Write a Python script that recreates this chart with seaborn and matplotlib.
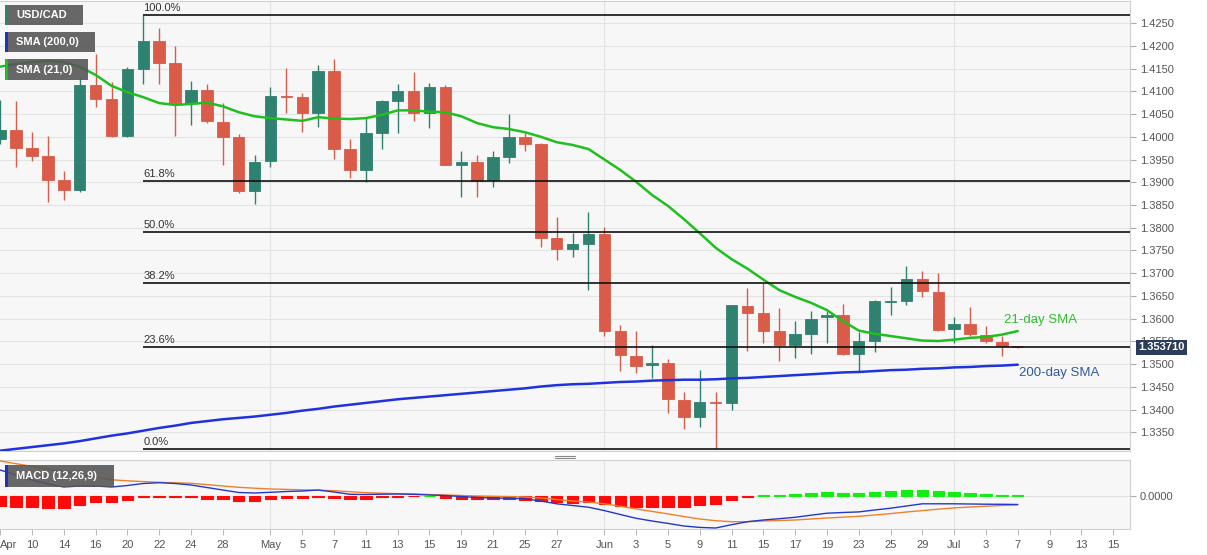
import numpy as np
import pandas as pd
import matplotlib
matplotlib.use("Agg")
import matplotlib.pyplot as plt
import seaborn as sns
from matplotlib.patches import Rectangle
from matplotlib.lines import Line2D

# ---------------- data ----------------
dates = pd.bdate_range("2020-04-08", "2020-07-07")

opens = [1.3995, 1.4015, 1.3976, 1.3958, 1.3904, 1.3884, 1.4114, 1.4082, 1.4002, 1.4150,
         1.4210, 1.4162, 1.4075, 1.4103, 1.4033, 1.3999, 1.3881, 1.3947, 1.4089, 1.4088,
         1.4052, 1.4145, 1.3973, 1.3927, 1.4008, 1.4079, 1.4101, 1.4052, 1.4110, 1.3938,
         1.3944, 1.3904, 1.3956, 1.4000, 1.3984, 1.3778, 1.3753, 1.3764, 1.3786, 1.3572,
         1.3519, 1.3498, 1.3502, 1.3422, 1.3383, 1.3417, 1.3415, 1.3629, 1.3613, 1.3573,
         1.3542, 1.3566, 1.3603, 1.3608, 1.3522, 1.3551, 1.3637, 1.3639, 1.3687, 1.3658,
         1.3577, 1.3588, 1.3564, 1.3548, 1.3540]
highs = [1.4081, 1.4079, 1.4010, 1.4002, 1.3925, 1.4132, 1.4183, 1.4120, 1.4154, 1.4268,
         1.4238, 1.4199, 1.4123, 1.4117, 1.4074, 1.4005, 1.3959, 1.4110, 1.4152, 1.4096,
         1.4157, 1.4172, 1.3994, 1.4041, 1.4081, 1.4115, 1.4142, 1.4119, 1.4114, 1.3969,
         1.3961, 1.3969, 1.4049, 1.4009, 1.3986, 1.3823, 1.3789, 1.3834, 1.3802, 1.3586,
         1.3572, 1.3542, 1.3512, 1.3438, 1.3488, 1.3439, 1.3631, 1.3667, 1.3678, 1.3623,
         1.3596, 1.3616, 1.3616, 1.3632, 1.3570, 1.3641, 1.3670, 1.3717, 1.3706, 1.3700,
         1.3603, 1.3625, 1.3583, 1.3561, 1.3541]
lows = [1.3985, 1.3934, 1.3947, 1.3856, 1.3862, 1.3878, 1.4065, 1.4000, 1.4000, 1.4116,
        1.4116, 1.4002, 1.4026, 1.4030, 1.3938, 1.3876, 1.3852, 1.3934, 1.4052, 1.4010,
        1.4022, 1.3952, 1.3909, 1.3901, 1.3973, 1.4008, 1.4035, 1.4019, 1.3937, 1.3867,
        1.3868, 1.3890, 1.3942, 1.3969, 1.3757, 1.3729, 1.3735, 1.3664, 1.3561, 1.3485,
        1.3480, 1.3469, 1.3392, 1.3357, 1.3361, 1.3313, 1.3400, 1.3529, 1.3546, 1.3507,
        1.3513, 1.3523, 1.3547, 1.3520, 1.3485, 1.3528, 1.3608, 1.3630, 1.3647, 1.3572,
        1.3546, 1.3561, 1.3546, 1.3519, 1.3536]
closes = [1.4015, 1.3976, 1.3958, 1.3904, 1.3884, 1.4114, 1.4082, 1.4002, 1.4150, 1.4210,
          1.4162, 1.4075, 1.4103, 1.4035, 1.3999, 1.3881, 1.3944, 1.4089, 1.4088, 1.4052,
          1.4145, 1.3974, 1.3927, 1.4008, 1.4079, 1.4101, 1.4052, 1.4110, 1.3938, 1.3944,
          1.3903, 1.3956, 1.4000, 1.3984, 1.3778, 1.3753, 1.3764, 1.3786, 1.3573, 1.3520,
          1.3497, 1.3502, 1.3423, 1.3383, 1.3416, 1.3415, 1.3630, 1.3613, 1.3574, 1.3542,
          1.3566, 1.3600, 1.3608, 1.3523, 1.3551, 1.3638, 1.3638, 1.3687, 1.3660, 1.3575,
          1.3588, 1.3566, 1.3551, 1.3540, 1.35371]

sma21 = [1.4154, 1.4160, 1.4164, 1.4167, 1.4164, 1.4154, 1.4136, 1.4112, 1.4098, 1.4087,
         1.4074, 1.4070, 1.4072, 1.4075, 1.4067, 1.4054, 1.4045, 1.4041, 1.4038, 1.4035,
         1.4043, 1.4040, 1.4039, 1.4041, 1.4048, 1.4058, 1.4058, 1.4055, 1.4054, 1.4045,
         1.4030, 1.4021, 1.4017, 1.4010, 1.4000, 1.3988, 1.3982, 1.3973, 1.3950, 1.3927,
         1.3901, 1.3872, 1.3848, 1.3819, 1.3788, 1.3756, 1.3731, 1.3710, 1.3686, 1.3663,
         1.3648, 1.3635, 1.3619, 1.3595, 1.3574, 1.3567, 1.3562, 1.3557, 1.3552, 1.3551,
         1.3554, 1.3558, 1.3560, 1.3565, 1.3573]
sma200 = [1.3310, 1.3314, 1.3318, 1.3322, 1.3326, 1.3331, 1.3337, 1.3343, 1.3348, 1.3354,
          1.3360, 1.3365, 1.3371, 1.3375, 1.3379, 1.3382, 1.3385, 1.3389, 1.3393, 1.3398,
          1.3402, 1.3407, 1.3411, 1.3415, 1.3419, 1.3423, 1.3426, 1.3429, 1.3432, 1.3435,
          1.3438, 1.3441, 1.3444, 1.3447, 1.3451, 1.3454, 1.3456, 1.3457, 1.3459, 1.3461,
          1.3462, 1.3464, 1.3465, 1.3466, 1.3466, 1.3467, 1.3469, 1.3470, 1.3472, 1.3474,
          1.3476, 1.3478, 1.3480, 1.3482, 1.3483, 1.3485, 1.3487, 1.3488, 1.3490, 1.3491,
          1.3493, 1.3494, 1.3496, 1.3497, 1.3499]

macd_line = [0.0052, 0.0042, 0.0032, 0.0024, 0.0018, 0.0020, 0.0020, 0.0018, 0.0021, 0.0025,
             0.00266, 0.0025, 0.0022, 0.0017, 0.0012, 0.0007, 0.0006, 0.00074, 0.0009, 0.0010,
             0.0012, 0.0008, 0.00034, 0.0003, 0.00036, 0.0004, 0.00034, 0.0002, 0.0001, -0.0001,
             -0.0003, -0.0004, -0.00046, -0.00056, -0.0010, -0.00156, -0.0019, -0.00224, -0.00292, -0.0037,
             -0.00446, -0.0050, -0.00548, -0.0060, -0.00628, -0.0064, -0.00574, -0.00514, -0.0048, -0.00454,
             -0.00426, -0.00384, -0.00344, -0.0033, -0.00318, -0.0028, -0.00244, -0.0020, -0.00156, -0.00156,
             -0.00156, -0.0016, -0.00164, -0.00166, -0.0017]
signal_line = [0.0070, 0.00646, 0.00592, 0.0054, 0.00486, 0.00432, 0.0038, 0.00324, 0.00304, 0.00288,
               0.00274, 0.00264, 0.00254, 0.00228, 0.0020, 0.00174, 0.00156, 0.0014, 0.00132, 0.00124,
               0.00114, 0.00106, 0.00086, 0.00066, 0.00056, 0.00046, 0.0004, 0.0003, 0.0002, 0.0001,
               0.0, -0.00006, -0.00012, -0.0002, -0.0004, -0.0007, -0.0010, -0.0012, -0.00156, -0.00206,
               -0.00258, -0.00308, -0.00358, -0.0041, -0.0046, -0.00494, -0.00514, -0.00514, -0.0050, -0.0049,
               -0.0048, -0.0046, -0.0044, -0.00424, -0.00406, -0.0038, -0.00352, -0.0032, -0.00292, -0.00264,
               -0.00238, -0.0022, -0.00204, -0.0019, -0.00176]
macd_hist = [-0.00206, -0.00226, -0.00226, -0.0024, -0.0024, -0.00174, -0.00126, -0.0012, -0.00074, -0.00026,
             -0.0002, -0.0002, -0.00026, -0.00054, -0.00066, -0.0010, -0.00106, -0.00066, -0.00046, -0.00034,
             -0.00014, -0.0004, -0.00054, -0.00054, -0.00026, -0.0001, -0.00006, 0.00006, -0.00046, -0.00054,
             -0.00066, -0.00066, -0.00066, -0.0007, -0.0010, -0.0012, -0.00134, -0.0012, -0.00168, -0.0020,
             -0.0022, -0.00216, -0.00216, -0.00216, -0.00188, -0.00168, -0.0008, -0.0001, 0.0002, 0.0003,
             0.00048, 0.00068, 0.00088, 0.00068, 0.00068, 0.00088, 0.0010, 0.0012, 0.0012, 0.0010,
             0.0008, 0.00054, 0.0004, 0.00026, 0.00014]

tick_dates = ["2020-04-08", "2020-04-10", "2020-04-14", "2020-04-16", "2020-04-20", "2020-04-22",
              "2020-04-24", "2020-04-28", "2020-05-01", "2020-05-05", "2020-05-07", "2020-05-11",
              "2020-05-13", "2020-05-15", "2020-05-19", "2020-05-21", "2020-05-25", "2020-05-27",
              "2020-06-01", "2020-06-03", "2020-06-05", "2020-06-09", "2020-06-11", "2020-06-15",
              "2020-06-17", "2020-06-19", "2020-06-23", "2020-06-25", "2020-06-29", "2020-07-01",
              "2020-07-03", "2020-07-07", "2020-07-09", "2020-07-13", "2020-07-15"]
tick_labels = ["Apr", "10", "14", "16", "20", "22", "24", "28", "May", "5", "7", "11", "13", "15",
               "19", "21", "25", "27", "Jun", "3", "5", "9", "11", "15", "17", "19", "23", "25",
               "29", "Jul", "3", "7", "9", "13", "15"]
month_starts = ["2020-05-01", "2020-06-01", "2020-07-01"]
fib_ratios = [1.0, 0.618, 0.5, 0.382, 0.236, 0.0]
fib_texts = ["100.0%", "61.8%", "50.0%", "38.2%", "23.6%", "0.0%"]
price_ticks = [1.3350, 1.3400, 1.3450, 1.3500, 1.3550, 1.3600, 1.3650, 1.3700, 1.3750, 1.3800,
               1.3850, 1.3900, 1.3950, 1.4000, 1.4050, 1.4100, 1.4150, 1.4200, 1.4250]

# ---------------- positions ----------------
all_days = pd.bdate_range("2020-04-08", "2020-07-15")
OFFSET = 2
pos_of = {d.strftime("%Y-%m-%d"): i - OFFSET for i, d in enumerate(all_days)}
xs = np.arange(len(dates)) - OFFSET
df = pd.DataFrame({"x": xs, "open": opens, "high": highs, "low": lows, "close": closes,
                   "sma21": sma21, "sma200": sma200, "macd": macd_line,
                   "signal": signal_line, "hist": macd_hist})

# ---------------- style ----------------
sns.set_theme(style="white")
plt.rcParams["font.family"] = ["Liberation Sans", "DejaVu Sans"]

W, H = 1207, 555
fig = plt.figure(figsize=(W / 100, H / 100), dpi=100)
fig.patch.set_facecolor("white")

def fx(px):
    return px / W

def fy(py):
    return 1 - py / H

ax = fig.add_axes([0, fy(451), fx(1130), fy(1) - fy(451)])
axm = fig.add_axes([0, fy(529), fx(1130), fy(460) - fy(529)])

XMIN, XMAX = -2.013, 69.06
GREEN_C = "#2f8170"
RED_C = "#d95b48"

for a in (ax, axm):
    a.set_facecolor("#f7f7f7")
    a.set_xlim(XMIN, XMAX)
    for s in ("left",):
        a.spines[s].set_visible(False)
    for s in ("right", "top", "bottom"):
        a.spines[s].set_color("#d0d0d0")
        a.spines[s].set_linewidth(0.8)
    for d in month_starts:
        a.axvline(pos_of[d], color="#e2e2e2", lw=0.8, zorder=0)

# ---------------- main panel ----------------
ax.set_ylim(1.33093, 1.42984)
ax.set_yticks(price_ticks)
ax.set_yticklabels([f"{v:.4f}" for v in price_ticks])
ax.yaxis.tick_right()
ax.tick_params(axis="y", right=True, length=4, width=0.8, color="#aaaaaa",
               labelsize=8, labelcolor="#555555", pad=3)
ax.set_xticks([])
ax.grid(axis="y", color="#e4e4e4", lw=0.8)
ax.set_axisbelow(True)

up = df["close"] >= df["open"]
colors = np.where(up, GREEN_C, RED_C)
ax.vlines(df["x"], df["low"], df["high"], colors=colors, lw=1.0, zorder=3)
body = (df["close"] - df["open"]).values
ax.bar(df["x"], body, bottom=df["open"], width=0.72, color=colors,
       edgecolor=colors, linewidth=0.6, zorder=4)

sns.lineplot(data=df, x="x", y="sma21", ax=ax, color="#1fbf1f", lw=1.8, zorder=5)
sns.lineplot(data=df, x="x", y="sma200", ax=ax, color="#1f33dd", lw=1.8, zorder=5)
ax.set_xlabel("")
ax.set_ylabel("")

# Fibonacci retracement
hi_i = int(np.argmax(highs))
f_hi, f_lo = max(highs), min(lows)
for r, t in zip(fib_ratios, fib_texts):
    lvl = f_lo + r * (f_hi - f_lo)
    ax.hlines(lvl, xs[hi_i], XMAX, color="#111111", lw=1.2, zorder=6)
    ax.annotate(t, (xs[hi_i], lvl), xytext=(0, 1.5), textcoords="offset points",
                fontsize=8, color="#333333", ha="left", va="bottom", zorder=6)

# SMA labels
ax.annotate("21-day SMA", (xs[-1], sma21[-1]), xytext=(-10, 8), textcoords="offset points",
            fontsize=9.5, color="#33bb33", ha="left", va="center", zorder=7)
ax.annotate("200-day SMA", (xs[-1], sma200[-1]), xytext=(1, -6), textcoords="offset points",
            fontsize=9.5, color="#2f5a9e", ha="left", va="center", zorder=7)

# last price tag
ax.annotate(f"{closes[-1]:.6f}", xy=(1.0, closes[-1]), xycoords=("axes fraction", "data"),
            xytext=(6, 0), textcoords="offset points", fontsize=8, fontweight="bold",
            color="white", ha="left", va="center", annotation_clip=False, zorder=20,
            bbox=dict(boxstyle="square,pad=0.25", fc="#2b3d58", ec="none"))

# ---------------- MACD panel ----------------
axm.set_ylim(-0.0066, 0.0072)
hcols = np.where(df["hist"] >= 0, "#11ee11", "#ff0a0a")
axm.bar(df["x"], df["hist"], width=0.72, color=hcols, edgecolor=hcols, linewidth=0.8, zorder=3)
sns.lineplot(data=df, x="x", y="signal", ax=axm, color="#f0802a", lw=1.0, zorder=4)
sns.lineplot(data=df, x="x", y="macd", ax=axm, color="#2338c8", lw=1.0, zorder=5)
axm.set_xlabel("")
axm.set_ylabel("")
axm.set_yticks([0.0])
axm.set_yticklabels(["0.0000"])
axm.yaxis.tick_right()
axm.grid(axis="y", color="#e0e0e0", lw=0.8)
axm.set_axisbelow(True)
axm.tick_params(axis="y", right=True, length=4, width=0.8, color="#aaaaaa",
                labelsize=8, labelcolor="#555555", pad=3)
axm.set_xticks([pos_of[d] for d in tick_dates])
axm.set_xticklabels(tick_labels)
axm.tick_params(axis="x", bottom=True, length=4, width=0.8, color="#bbbbbb",
                labelsize=8, labelcolor="#555555", pad=4)
axm.get_xticklabels()[0].set_horizontalalignment("left")

# ---------------- legend tags ----------------
def tag(x0, y0, x1, y1, strip, label):
    fig.add_artist(Rectangle((fx(x0), fy(y1)), fx(x1) - fx(x0), fy(y0) - fy(y1),
                             transform=fig.transFigure, facecolor="#575757", alpha=0.9,
                             edgecolor="none", zorder=30))
    fig.add_artist(Rectangle((fx(x0), fy(y1)), fx(2.5), fy(y0) - fy(y1),
                             transform=fig.transFigure, facecolor=strip,
                             edgecolor="none", zorder=31))
    fig.text(fx(x0 + 11), fy((y0 + y1) / 2), label, color="white", fontsize=8,
             fontweight="bold", ha="left", va="center", zorder=32)

tag(5, 5, 83, 25, GREEN_C, "USD/CAD")
tag(5, 32, 95, 52, "#2030c0", "SMA (200,0)")
tag(5, 59, 88, 80, "#22bb22", "SMA (21,0)")
tag(5, 465, 114, 487, "#2030c0", "MACD (12,26,9)")

# panel drag handle
for yy in (455.5, 458):
    fig.add_artist(Line2D([fx(555), fx(575)], [fy(yy), fy(yy)], transform=fig.transFigure,
                          color="#888888", lw=0.8))

fig.savefig("out.png", dpi=100, facecolor="white")
